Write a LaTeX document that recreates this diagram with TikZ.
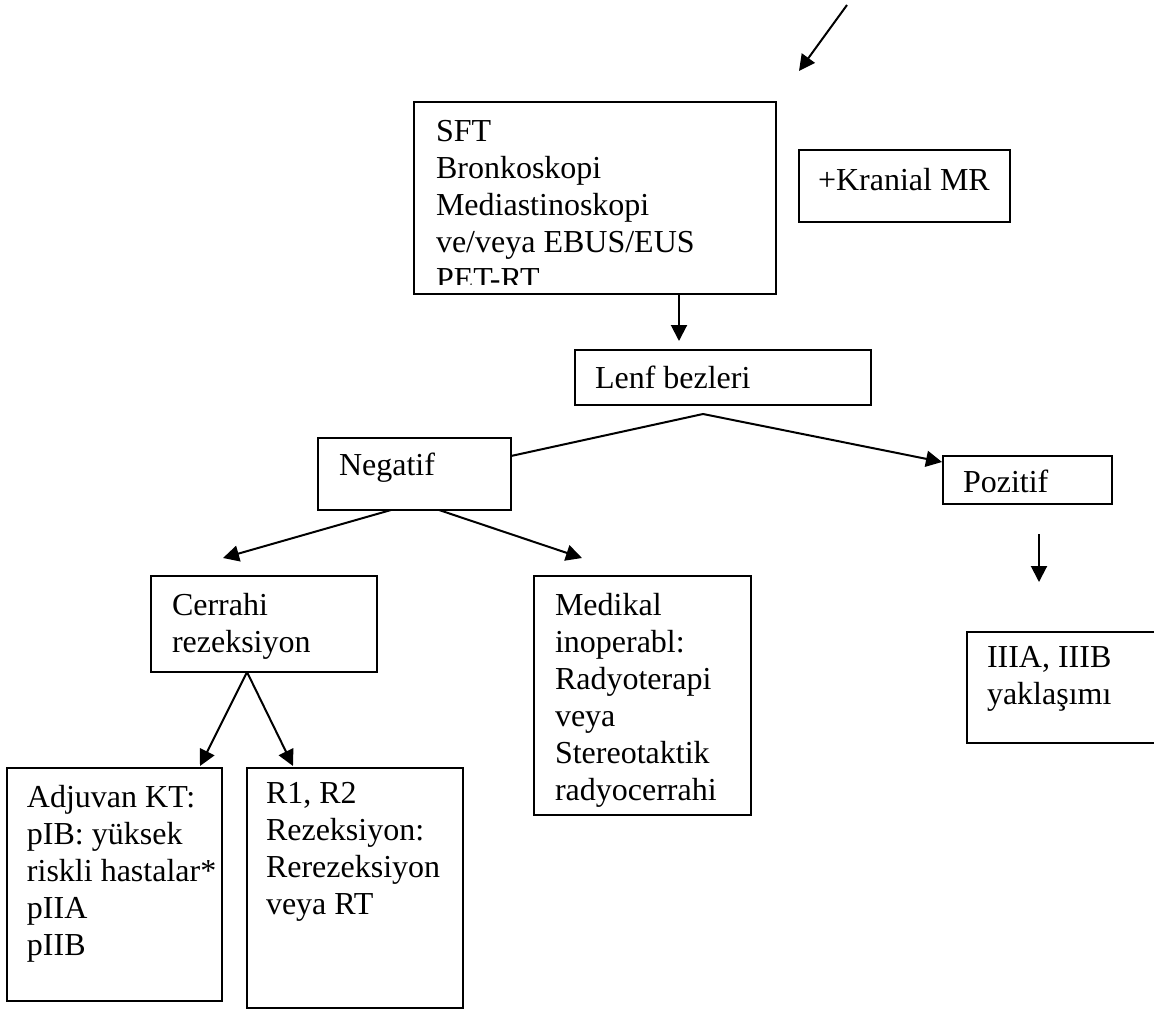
\documentclass[tikz,border=0pt]{standalone}
\usepackage{fontspec}
\setmainfont{Liberation Serif}
\usetikzlibrary{arrows.meta,calc}
\begin{document}
\begin{tikzpicture}[x=1pt,y=-1pt,
  box/.style={draw, line width=2pt, rectangle, inner sep=0pt, outer sep=0pt, anchor=north west},
  txt/.style={anchor=north west, inner sep=0pt, outer sep=0pt, align=left, font=\fontsize{32}{37}\selectfont},
  con/.style={line width=2pt},
  arr/.style={con, -{Triangle[length=16pt,width=16pt]}}]
\useasboundingbox (0,0) rectangle (1154,1012);
\clip (0,0) rectangle (1154,1012);
% boxes
\node[box, minimum width=362pt, minimum height=192pt] (sft) at (414,102) {};
\node[box, minimum width=211pt, minimum height=72pt] (kran) at (799,150) {};
\node[box, minimum width=296pt, minimum height=55pt] (lenf) at (575,350) {};
\node[box, minimum width=193pt, minimum height=72pt] (neg) at (318,438) {};
\node[box, minimum width=169pt, minimum height=48pt] (poz) at (943,456) {};
\node[box, minimum width=226pt, minimum height=96pt] (cer) at (151,576) {};
\node[box, minimum width=217pt, minimum height=239pt] (med) at (534,576) {};
\node[box, minimum width=213pt, minimum height=111pt] (iii) at (967,632) {};
\node[box, minimum width=215pt, minimum height=233pt] (adj) at (7,768) {};
\node[box, minimum width=216pt, minimum height=240pt] (rone) at (247,768) {};
% texts
\begin{scope}
\clip (414,102) rectangle (776,284);
\node[txt] (sftt) at (436,116) {\strut SFT\\Bronkoskopi\\Mediastinoskopi\\ve/veya EBUS/EUS\\PET-RT};
\end{scope}
\node[txt] (krant) at (818,165) {\strut +Kranial MR};
\node[txt] (lenft) at (595,363) {\strut Lenf bezleri};
\node[txt] (negt) at (339,450) {\strut Negatif};
\node[txt] (pozt) at (963,467) {\strut Pozitif};
\node[txt] (cert) at (172,590) {\strut Cerrahi\\rezeksiyon};
\node[txt] (medt) at (555,590) {\strut Medikal\\inoperabl:\\Radyoterapi\\veya\\Stereotaktik\\radyocerrahi};
\node[txt] (iiit) at (987,642) {\strut IIIA, IIIB\\yaklaşımı};
\node[txt] (adjt) at (27,782) {\strut Adjuvan KT:\\pIB: yüksek\\riskli hastalar*\\pIIA\\pIIB};
\node[txt] (ronet) at (266,778) {\strut R1, R2\\Rezeksiyon:\\Rerezeksiyon\\veya RT};
% connectors
\coordinate (t0) at (847,5);
\coordinate (t1) at (799,71);
\draw[arr] (t0) -- (t1);
\draw[arr] ([xshift=265pt]sft.south west) -- ([xshift=104pt,yshift=9pt]lenf.north west);
\coordinate (lap) at ([xshift=128pt,yshift=-9pt]lenf.south west);
\draw[con] ([yshift=-18pt]neg.north east) -- (lap);
\draw[arr] (lap) -- ([xshift=-1pt,yshift=-6pt]poz.north west);
\draw[arr] ([xshift=73pt]neg.south west) -- ([xshift=72pt,yshift=18pt]cer.north west);
\draw[arr] ([xshift=121pt]neg.south west) -- ([xshift=48pt,yshift=18pt]med.north west);
\draw[arr] ([xshift=96pt,yshift=-30pt]poz.south west) -- ([xshift=72pt,yshift=50pt]iii.north west);
\draw[arr] ([xshift=96pt]cer.south west) -- ([xshift=193pt,yshift=2pt]adj.north west);
\draw[arr] ([xshift=96pt]cer.south west) -- ([xshift=46pt,yshift=2pt]rone.north west);
\end{tikzpicture}
\end{document}
